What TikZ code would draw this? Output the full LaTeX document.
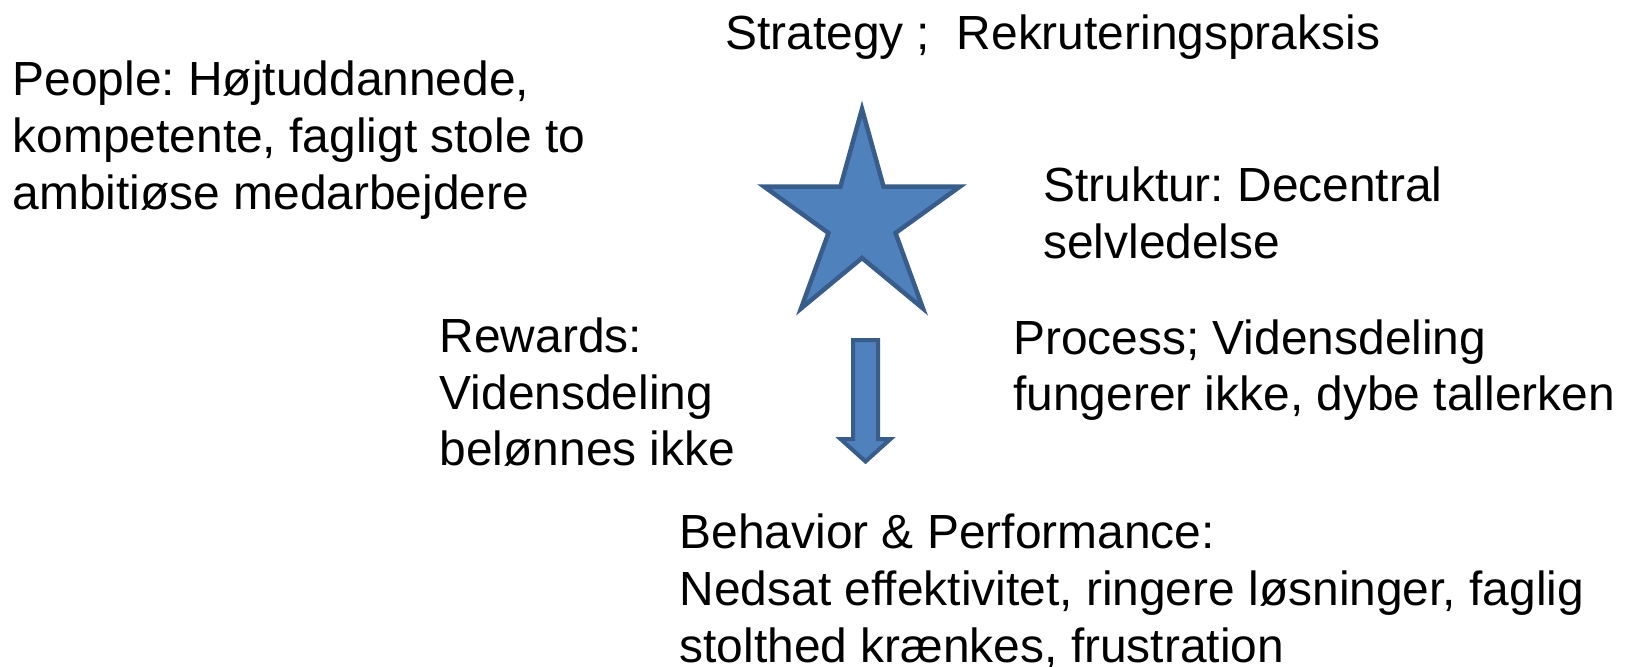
\documentclass[tikz,border=0pt]{standalone}
\usepackage{fontspec}
\setmainfont{Liberation Sans}
\definecolor{starfill}{HTML}{4F81BD}
\definecolor{starline}{HTML}{385D8A}
\begin{document}
\frenchspacing
\begin{tikzpicture}[x=1bp,y=-1bp,
  lbl/.style={anchor=base west, inner sep=0pt, font=\fontsize{47.9bp}{57bp}\selectfont},
  shapestyle/.style={fill=starfill, draw=starline, line width=4.5bp, line join=miter}]
\useasboundingbox (0,0) rectangle (1628,667);
% star
\draw[shapestyle] (862,109) -- (840.5,186.5) -- (764,186.5) -- (828.5,233) -- (801,308.5)
  -- (862,258) -- (923,308.5) -- (895.5,233) -- (960,186.5) -- (883.5,186.5) -- cycle;
% arrow
\draw[shapestyle, line width=4bp] (853,340) -- (878,340) -- (878,439) -- (890.5,439) -- (865.5,461.5)
  -- (840.5,439) -- (853,439) -- cycle;
% texts
\node[lbl] (strategy) at (725,49.5) {Strategy ;\ \ Rekruteringspraksis};
\node[lbl] (people1) at (12.5,95.5) {People: Højtuddannede,};
\node[lbl] (people2) at (12.5,152.5) {kompetente, fagligt stole to};
\node[lbl] (people3) at (12.5,209.5) {ambitiøse medarbejdere};
\node[lbl] (struktur1) at (1043,201) {Struktur: Decentral};
\node[lbl] (struktur2) at (1043,258) {selvledelse};
\node[lbl] (rewards1) at (439.5,352.5) {Rewards:};
\node[lbl] (rewards2) at (439.5,409) {Vidensdeling};
\node[lbl] (rewards3) at (439.5,465.5) {belønnes ikke};
\node[lbl] (process1) at (1013,354) {Process; Vidensdeling};
\node[lbl] (process2) at (1013,410) {fungerer ikke, dybe tallerken};
\node[lbl] (behavior1) at (679.5,548.5) {Behavior \& Performance:};
\node[lbl] (behavior2) at (679.5,605.5) {Nedsat effektivitet, ringere løsninger, faglig};
\node[lbl] (behavior3) at (679.5,662.5) {stolthed krænkes, frustration};
\end{tikzpicture}
\end{document}
